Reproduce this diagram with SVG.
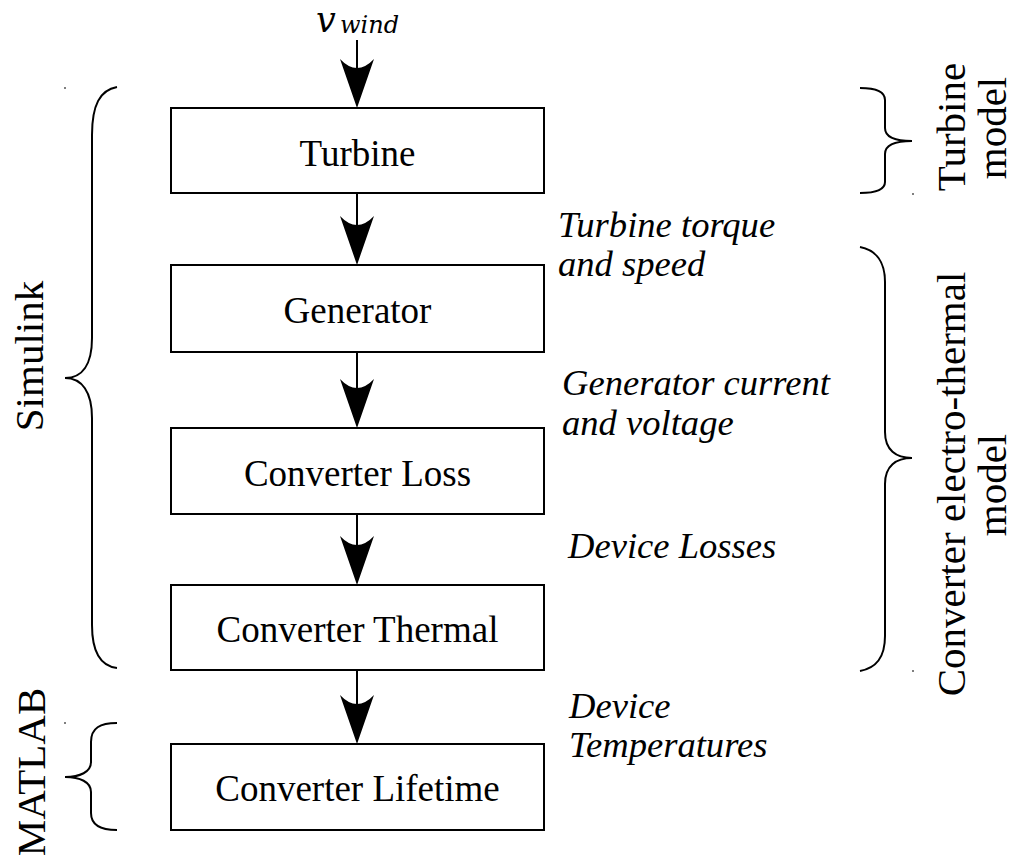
<svg xmlns="http://www.w3.org/2000/svg" width="1013" height="862" viewBox="0 0 1013 862">
<style>
.box{fill:#fff;stroke:#000;stroke-width:2}
.bt{font-family:"Liberation Serif",serif;font-size:37px;text-anchor:middle;fill:#000}
.lab{font-family:"Liberation Serif",serif;font-size:36.6px;font-style:italic;fill:#000}
.rot{font-family:"Liberation Serif",serif;font-size:41px;text-anchor:middle;fill:#000}
.ln{stroke:#000;stroke-width:2;fill:none}
.br{stroke:#000;stroke-width:2;fill:none}
.dot{fill:#555}
</style>
<defs>
<path id="ah" d="M0,0 L-17,-49 Q0,-31 17,-49 Z" fill="#000"/>
</defs>
<rect width="1013" height="862" fill="#fff"/>
<g id="connectors">
<line class="ln" x1="357" y1="40" x2="357" y2="100"/>
<use href="#ah" x="357" y="108"/>
<line class="ln" x1="357" y1="193" x2="357" y2="257"/>
<use href="#ah" x="357" y="265"/>
<line class="ln" x1="357" y1="352" x2="357" y2="420"/>
<use href="#ah" x="357" y="428"/>
<line class="ln" x1="357" y1="514" x2="357" y2="577"/>
<use href="#ah" x="357" y="585"/>
<line class="ln" x1="357" y1="670" x2="357" y2="736"/>
<use href="#ah" x="357" y="744"/>
</g>
<g id="vwind">
<text x="316" y="32" font-family="DejaVu Serif,serif" font-style="italic" font-size="35">v</text>
<text x="340" y="33" font-family="DejaVu Serif,serif" font-style="italic" font-size="24">wind</text>
</g>
<g id="turbine"><rect class="box" x="171" y="108" width="373" height="85"/><text class="bt" x="357.5" y="166">Turbine</text></g>
<g id="generator"><rect class="box" x="171" y="265" width="373" height="87"/><text class="bt" x="357.5" y="323">Generator</text></g>
<g id="converter-loss"><rect class="box" x="171" y="428" width="373" height="86"/><text class="bt" x="357.5" y="486">Converter Loss</text></g>
<g id="converter-thermal"><rect class="box" x="171" y="585" width="373" height="85"/><text class="bt" x="357.5" y="642">Converter Thermal</text></g>
<g id="converter-lifetime"><rect class="box" x="171" y="744" width="373" height="86"/><text class="bt" x="357.5" y="801">Converter Lifetime</text></g>
<g id="labels">
<text class="lab" x="558" y="237">Turbine torque</text>
<text class="lab" x="558" y="276">and speed</text>
<text class="lab" x="562" y="395">Generator current</text>
<text class="lab" x="562" y="435">and voltage</text>
<text class="lab" x="568" y="558">Device Losses</text>
<text class="lab" x="569" y="718">Device</text>
<text class="lab" x="569" y="757">Temperatures</text>
</g>
<g id="simulink-brace">
<path class="br" d="M117,87 C100,90 92,105 92,135 L92,338 C92,365 82,378 65,378 C82,378 92,392 92,418 L92,625 C92,652 100,666 117,668"/>
<text class="rot" transform="translate(43,356) rotate(-90)">Simulink</text>
</g>
<g id="matlab-brace">
<path class="br" d="M117,723 C100,723 91,728 91,742 L91,762 C91,772 80,777 65,777 C80,777 91,782 91,792 L91,813 C91,825 100,830 117,830"/>
<text class="rot" transform="translate(45,772) rotate(-90)">MATLAB</text>
</g>
<g id="turbine-model-brace">
<path class="br" d="M860,88 C876,88 885,91 885,100 L885,128 C885,137 895,141 912,141 C895,141 885,145 885,154 L885,182 C885,190 876,193 860,193"/>
<text class="rot" transform="translate(965,127) rotate(-90)">Turbine</text>
<text class="rot" transform="translate(1006,128) rotate(-90)">model</text>
</g>
<g id="converter-model-brace">
<path class="br" d="M860,247 C876,250 885,262 885,282 L885,432 C885,450 896,458 912,458 C896,458 885,466 885,484 L885,636 C885,658 876,668 860,671"/>
<text class="rot" transform="translate(965,484) rotate(-90)">Converter electro-thermal</text>
<text class="rot" transform="translate(1006,485) rotate(-90)">model</text>
</g>
<g id="marks">
<circle class="dot" cx="65" cy="88" r="1"/>
<circle class="dot" cx="913" cy="194" r="1"/>
<circle class="dot" cx="913" cy="671" r="1"/>
<circle class="dot" cx="65" cy="723" r="1"/>
</g>
</svg>
